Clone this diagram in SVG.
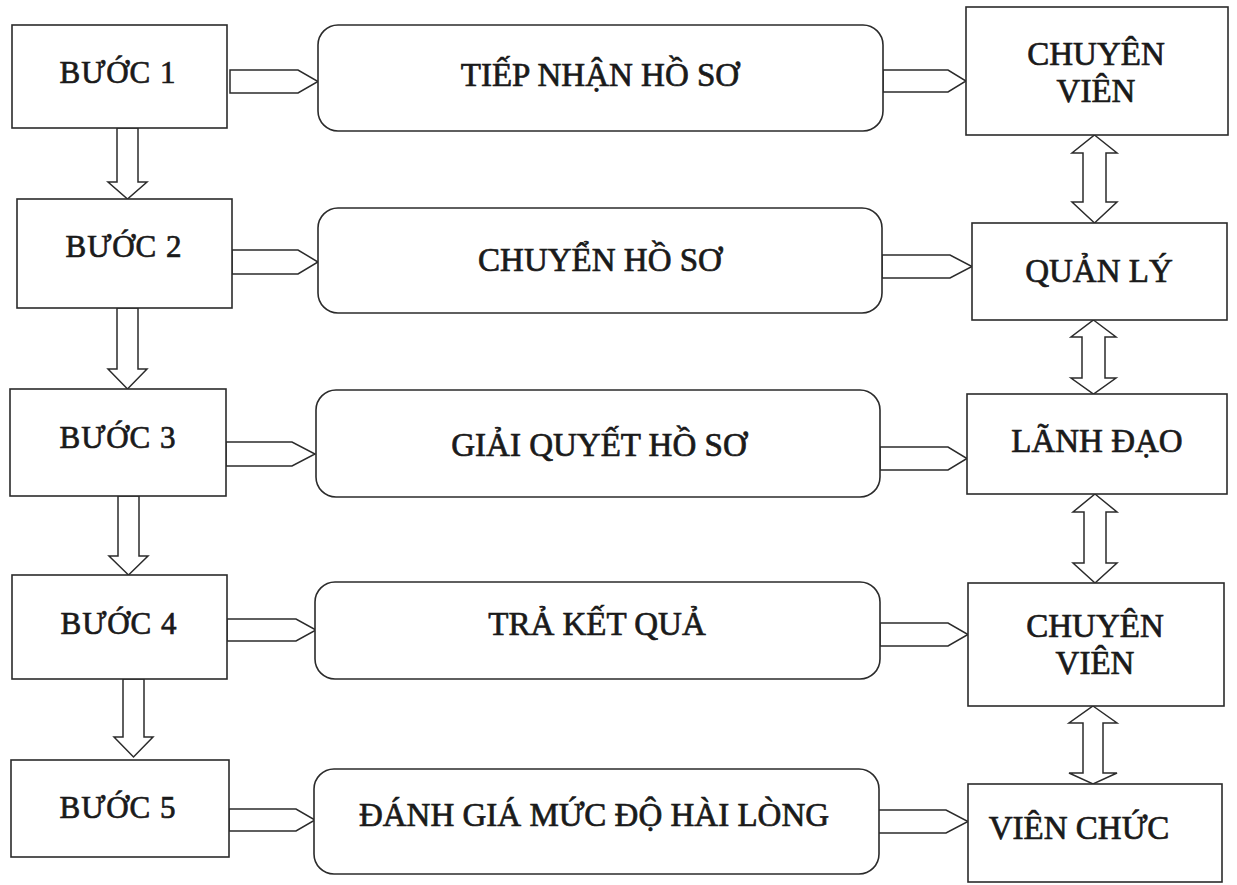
<svg xmlns="http://www.w3.org/2000/svg" width="1237" height="885" viewBox="0 0 1237 885">
  <style>
    .box { fill: #ffffff; stroke: #2b2b2b; stroke-width: 1.6; }
    .arrow { fill: #ffffff; stroke: #2b2b2b; stroke-width: 1.5; stroke-linejoin: miter; }
    text { font-family: "Liberation Serif", "Times New Roman", serif; fill: #1a1a1a; text-anchor: middle; stroke: #1a1a1a; stroke-width: 0.7; }
    .step { font-size: 31px; letter-spacing: 1px; }
    .task { font-size: 33px; }
    .role { font-size: 33px; }
  </style>
  <rect width="1237" height="885" fill="#ffffff"/>

  <!-- connectors -->
  <g id="connectors">
    <!-- step to task -->
    <polygon class="arrow" points="230,70 298,70 318,81.5 298,93 230,93"/>
    <polygon class="arrow" points="232,250 298,250 318,262 298,274 232,274"/>
    <polygon class="arrow" points="226,442 292,442 315,454 292,466 226,466"/>
    <polygon class="arrow" points="227,619 296,619 316,630 296,641 227,641"/>
    <polygon class="arrow" points="229,809 296,809 315,820 296,831 229,831"/>
    <!-- task to role -->
    <polygon class="arrow" points="883,70 948,70 966,81 948,92 883,92"/>
    <polygon class="arrow" points="882,255 950,255 972,266.5 950,278 882,278"/>
    <polygon class="arrow" points="880,447 948,447 967,458.5 948,470 880,470"/>
    <polygon class="arrow" points="880,623 948,623 968,634.5 948,646 880,646"/>
    <polygon class="arrow" points="878,810 946,810 968,821.5 946,833 878,833"/>
    <!-- step to next step -->
    <polygon class="arrow" points="117,128 138,128 138,182 147,182 127.5,199 108,182 117,182"/>
    <polygon class="arrow" points="117,308 138,308 138,369 147,369 127.5,389 108,369 117,369"/>
    <polygon class="arrow" points="118,496 139,496 139,556 148,556 128.5,575 109,556 118,556"/>
    <polygon class="arrow" points="123,679 144,679 144,737 153,737 133.5,757 114,737 123,737"/>
    <!-- role to role, both ways -->
    <polygon class="arrow" points="1094.5,135 1117,153 1106,153 1106,202 1117,202 1094.5,223 1072,202 1083,202 1083,153 1072,153"/>
    <polygon class="arrow" points="1093.5,320 1116,337 1105,337 1105,378 1116,378 1093.5,394 1071,378 1082,378 1082,337 1071,337"/>
    <polygon class="arrow" points="1095,494 1117,512 1106,512 1106,563 1117,563 1095,583 1073,563 1084,563 1084,512 1073,512"/>
    <polygon class="arrow" points="1093,706 1117,723 1103,723 1103,773 1117,773 1093,784 1069,773 1083,773 1083,723 1069,723"/>
  </g>

  <!-- steps -->
  <g id="step1"><rect class="box" x="12" y="25" width="215" height="103"/><text class="step" x="118" y="83">BƯỚC 1</text></g>
  <g id="step2"><rect class="box" x="17" y="199" width="215" height="109"/><text class="step" x="124" y="257">BƯỚC 2</text></g>
  <g id="step3"><rect class="box" x="10" y="389" width="216" height="107"/><text class="step" x="118" y="448">BƯỚC 3</text></g>
  <g id="step4"><rect class="box" x="12" y="575" width="215" height="104"/><text class="step" x="119" y="634">BƯỚC 4</text></g>
  <g id="step5"><rect class="box" x="11" y="760" width="218" height="97"/><text class="step" x="118" y="818">BƯỚC 5</text></g>

  <!-- tasks -->
  <g id="task1"><rect class="box" x="318" y="25" width="565" height="106" rx="20"/><text class="task" x="600" y="86">TIẾP NHẬN HỒ SƠ</text></g>
  <g id="task2"><rect class="box" x="318" y="208" width="564" height="105" rx="20"/><text class="task" x="600" y="271">CHUYỂN HỒ SƠ</text></g>
  <g id="task3"><rect class="box" x="316" y="390" width="564" height="107" rx="20"/><text class="task" x="599" y="456">GIẢI QUYẾT HỒ SƠ</text></g>
  <g id="task4"><rect class="box" x="315" y="582" width="565" height="97" rx="20"/><text class="task" x="597" y="635">TRẢ KẾT QUẢ</text></g>
  <g id="task5"><rect class="box" x="314" y="769" width="565" height="105" rx="20"/><text class="task" x="594" y="826">ĐÁNH GIÁ MỨC ĐỘ HÀI LÒNG</text></g>

  <!-- roles -->
  <g id="role1"><rect class="box" x="966" y="7" width="262" height="128"/><text class="role" x="1096" y="65">CHUYÊN</text><text class="role" x="1096" y="102">VIÊN</text></g>
  <g id="role2"><rect class="box" x="972" y="223" width="255" height="97"/><text class="role" x="1099" y="282">QUẢN LÝ</text></g>
  <g id="role3"><rect class="box" x="967" y="394" width="260" height="100"/><text class="role" x="1097" y="452">LÃNH ĐẠO</text></g>
  <g id="role4"><rect class="box" x="968" y="583" width="256" height="123"/><text class="role" x="1095" y="637">CHUYÊN</text><text class="role" x="1095" y="674">VIÊN</text></g>
  <g id="role5"><rect class="box" x="968" y="784" width="254" height="98"/><text class="role" x="1079" y="839">VIÊN CHỨC</text></g>
</svg>
